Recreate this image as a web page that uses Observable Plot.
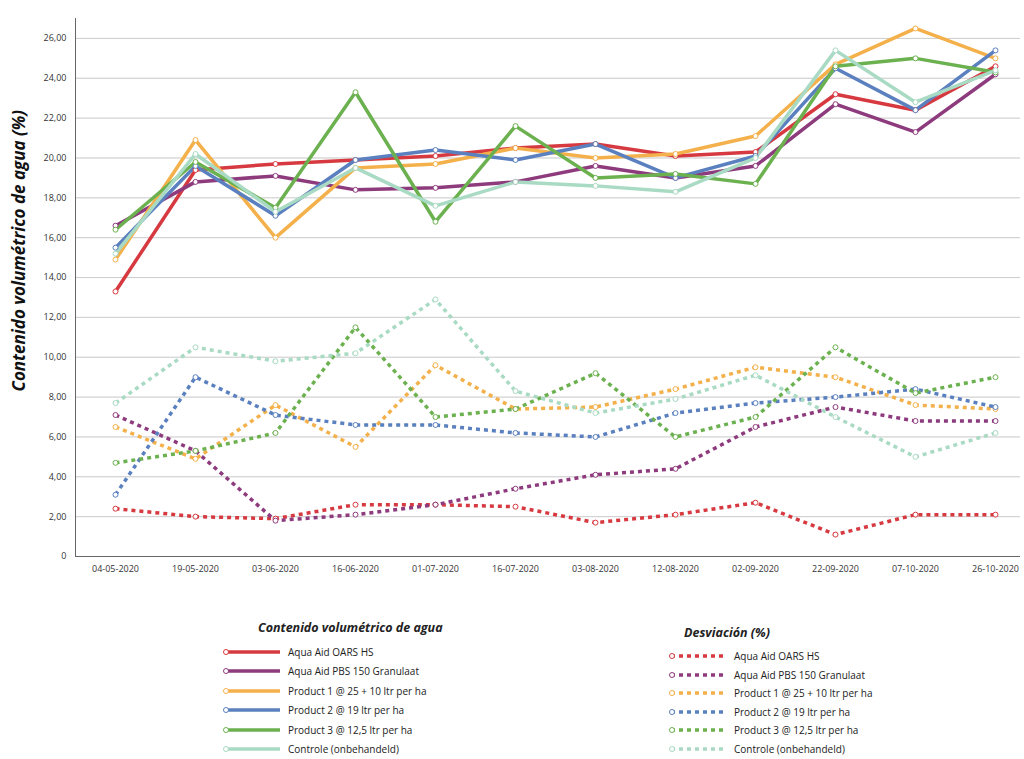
<!DOCTYPE html>
<html><head><meta charset="utf-8">
<script src="https://cdn.jsdelivr.net/npm/d3@7"></script>
<script src="https://cdn.jsdelivr.net/npm/@observablehq/plot@0.6"></script>
<style>
body{margin:0;background:#fff;font-family:"Open Sans",sans-serif;}
#wrap{position:relative;width:1024px;height:759px;}
#ylab{position:absolute;left:-92px;top:270px;width:220px;transform:rotate(-90deg);font:italic bold 17px "Open Sans",sans-serif;color:#111;text-align:center;white-space:nowrap;}
.leg{position:absolute;font-size:10px;color:#222;}
.leg .t{font:italic bold 12.5px "Open Sans",sans-serif;margin-bottom:6px;}
.row{display:flex;align-items:center;height:19px;}
.row svg{margin-right:6px;}
</style></head><body>
<div id="wrap"><div id="chart" style="position:absolute;left:0;top:0"></div><div id="ylab">Contenido volumétrico de agua (%)</div>
<div class="leg" id="leg1" style="left:222px;top:619px"></div>
<div class="leg" id="leg2" style="left:668px;top:624px"></div>
</div>
<script>
const dates = ["04-05-2020","19-05-2020","03-06-2020","16-06-2020","01-07-2020","16-07-2020","03-08-2020","12-08-2020","02-09-2020","22-09-2020","07-10-2020","26-10-2020"];
const names = ["Aqua Aid OARS HS","Aqua Aid PBS 150 Granulaat","Product 1 @ 25 + 10 ltr per ha","Product 2 @ 19 ltr per ha","Product 3 @ 12,5 ltr per ha","Controle (onbehandeld)"];
const colors = ["#d63a40","#8e3b7e","#f4b04a","#5b80bf","#6cb150","#a9dac3"];
const vwcOARS = [13.3,19.4,19.7,19.9,20.1,20.5,20.7,20.1,20.3,23.2,22.4,24.6];
const vwcPBS = [16.6,18.8,19.1,18.4,18.5,18.8,19.6,19.0,19.6,22.7,21.3,24.2];
const vwcP1 = [14.9,20.9,16.0,19.5,19.7,20.5,20.0,20.2,21.1,24.7,26.5,25.0];
const vwcP2 = [15.5,19.6,17.1,19.9,20.4,19.9,20.7,19.0,20.1,24.5,22.4,25.4];
const vwcP3 = [16.4,19.8,17.5,23.3,16.8,21.6,19.0,19.2,18.7,24.6,25.0,24.3];
const vwcCtrl = [15.2,20.2,17.3,19.5,17.6,18.8,18.6,18.3,20.0,25.4,22.8,24.4];
const devOARS = [2.4,2.0,1.9,2.6,2.6,2.5,1.7,2.1,2.7,1.1,2.1,2.1];
const devPBS = [7.1,5.3,1.8,2.1,2.6,3.4,4.1,4.4,6.5,7.5,6.8,6.8];
const devP1 = [6.5,4.9,7.6,5.5,9.6,7.4,7.5,8.4,9.5,9.0,7.6,7.4];
const devP2 = [3.1,9.0,7.1,6.6,6.6,6.2,6.0,7.2,7.7,8.0,8.4,7.5];
const devP3 = [4.7,5.3,6.2,11.5,7.0,7.4,9.2,6.0,7.0,10.5,8.2,9.0];
const devCtrl = [7.7,10.5,9.8,10.2,12.9,8.3,7.2,7.9,9.1,7.0,5.0,6.2];
const yTicks = [0,2,4,6,8,10,12,14,16,18,20,22,24,26];

const vwc=[vwcOARS,vwcPBS,vwcP1,vwcP2,vwcP3,vwcCtrl], dev=[devOARS,devPBS,devP1,devP2,devP3,devCtrl];
const rows=[];
vwc.forEach((s,i)=>s.forEach((v,j)=>rows.push({d:dates[j],v,s:names[i],k:"vwc"})));
dev.forEach((s,i)=>s.forEach((v,j)=>rows.push({d:dates[j],v,s:names[i],k:"dev"})));
const solid=rows.filter(r=>r.k==="vwc"), dashed=rows.filter(r=>r.k==="dev");
const fmt=v=>v===0?"0":v.toFixed(2).replace(".",",");
const plot=Plot.plot({
  width:1024,height:575,marginLeft:75,marginRight:4,marginTop:18,marginBottom:19,
  style:{fontFamily:"Open Sans, sans-serif",fontSize:"9px",color:"#333"},
  x:{type:"point",domain:dates,padding:0.4,align:0.62,label:null,tickSize:0},
  y:{domain:[0,27],ticks:yTicks,tickFormat:fmt,label:null,tickSize:0,grid:true},
  color:{domain:names,range:colors},
  marks:[
    Plot.gridY(yTicks,{stroke:"#bbb",strokeOpacity:0.6}),
    Plot.ruleY([0],{stroke:"#666"}),
    Plot.ruleX([dates[0]],{stroke:"#666",dx:-40,y1:0,y2:27}),
    Plot.line(dashed,{x:"d",y:"v",z:"s",stroke:"s",strokeWidth:3.5,strokeDasharray:"4,4",strokeLinecap:"butt",strokeLinejoin:"miter"}),
    Plot.line(solid,{x:"d",y:"v",z:"s",stroke:"s",strokeWidth:3.5}),
    Plot.dot(rows,{x:"d",y:"v",stroke:"s",fill:"white",r:2.5,strokeWidth:1})
  ]
});
document.getElementById("chart").append(plot);
function legend(id,title,dash,sp,ind){
  const el=document.getElementById(id);
  let h=`<div class="t" style="margin-left:${ind}px">${title}</div>`;
  names.forEach((n,i)=>{h+=`<div class="row" style="height:${sp}px"><svg width="60" height="10"><line x1="3" x2="58" y1="5" y2="5" stroke="${colors[i]}" stroke-width="3.5" ${dash?'stroke-dasharray="4,4"':''}/><circle cx="4" cy="5" r="2.5" fill="white" stroke="${colors[i]}"/></svg>${n}</div>`;});
  el.innerHTML=h;
}
legend("leg1","Contenido volumétrico de agua",false,19.5,36);
legend("leg2","Desviación (%)",true,18.5,16);
</script></body></html>
